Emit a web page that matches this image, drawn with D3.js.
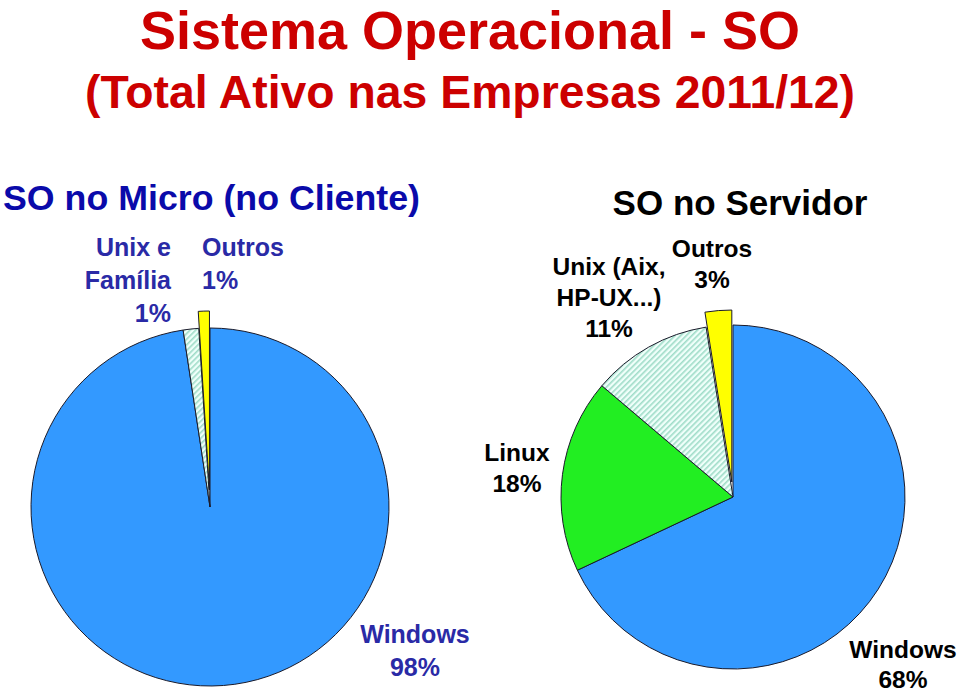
<!DOCTYPE html>
<html>
<head>
<meta charset="utf-8">
<script src="https://cdn.jsdelivr.net/npm/d3@7"></script>
<style>
  html, body { margin: 0; padding: 0; background: #fff; }
  svg { display: block; }
  text { font-family: "Liberation Sans", Arial, Helvetica, sans-serif; font-weight: bold; }
</style>
</head>
<body>
<svg id="chart" width="959" height="694"></svg>
<script>
// ---- data ----
const titleLines = ["Sistema Operacional - SO", "(Total Ativo nas Empresas 2011/12)"];
const microTitle = "SO no Micro (no Cliente)";
const servTitle = "SO no Servidor";

const microCats = ["Windows", "Unix e Família", "Outros"];
const microVals = [97.6, 1.4, 1.0];
const microLabelLines = [["Windows"], ["Unix e", "Família"], ["Outros"]];

const servCats = ["Windows", "Linux", "Unix (Aix, HP-UX...)", "Outros"];
const servVals = [68, 18.2, 11.3, 2.5];
const servLabelLines = [["Windows"], ["Linux"], ["Unix (Aix,", "HP-UX...)"], ["Outros"]];

// ---- styling / layout ----
const svg = d3.select("#chart");
const defs = svg.append("defs");
const pat = defs.append("pattern")
  .attr("id", "hatch").attr("patternUnits", "userSpaceOnUse")
  .attr("width", 4).attr("height", 4)
  .attr("patternTransform", "rotate(45)");
pat.append("rect").attr("width", 4).attr("height", 4).attr("fill", "#effffa");
pat.append("rect").attr("width", 1.6).attr("height", 4).attr("fill", "#9fdcc8");

const colorMap = {
  "Windows": "#3399ff",
  "Linux": "#22ee22",
  "Unix e Família": "url(#hatch)",
  "Unix (Aix, HP-UX...)": "url(#hatch)",
  "Outros": "#ffff00"
};

// Titles
svg.append("text").attr("x", 470).attr("y", 49).attr("text-anchor", "middle")
  .attr("font-size", 53).attr("fill", "#cc0000")
  .attr("textLength", 660).attr("lengthAdjust", "spacingAndGlyphs")
  .text(titleLines[0]);
svg.append("text").attr("x", 470).attr("y", 108).attr("text-anchor", "middle")
  .attr("font-size", 46).attr("fill", "#cc0000")
  .attr("textLength", 770).attr("lengthAdjust", "spacingAndGlyphs")
  .text(titleLines[1]);

svg.append("text").attr("x", 3).attr("y", 210)
  .attr("font-size", 35).attr("fill", "#0a0aaa")
  .attr("textLength", 417).attr("lengthAdjust", "spacingAndGlyphs")
  .text(microTitle);
svg.append("text").attr("x", 740).attr("y", 215).attr("text-anchor", "middle")
  .attr("font-size", 35).attr("fill", "#000")
  .text(servTitle);

function drawPie(cats, vals, cx, cy, r, explodeIdx, explodeDist) {
  const data = cats.map((c, i) => ({ cat: c, val: vals[i] }));
  const pie = d3.pie().sort(null).value(d => d.val).startAngle(0).endAngle(2 * Math.PI);
  const arc = d3.arc().innerRadius(0).outerRadius(r);
  const arcs = pie(data);
  const g = svg.append("g").attr("transform", `translate(${cx},${cy})`);
  g.selectAll("path").data(arcs).join("path")
    .attr("d", arc)
    .attr("fill", d => colorMap[d.data.cat])
    .attr("stroke", "#1a1a2a")
    .attr("stroke-width", 1)
    .attr("stroke-linejoin", "round")
    .attr("transform", (d, i) => {
      if (i !== explodeIdx) return null;
      const a = (d.startAngle + d.endAngle) / 2;
      return `translate(${explodeDist * Math.sin(a)},${-explodeDist * Math.cos(a)})`;
    });
  return arcs;
}

function drawLabel(lines, pct, x, y, anchor, color, size, lh) {
  const all = lines.concat([pct]);
  const t = svg.append("text").attr("text-anchor", anchor)
    .attr("font-size", size).attr("fill", color);
  all.forEach((s, i) => {
    t.append("tspan").attr("x", x).attr("y", y + i * lh).text(s);
  });
}

const pctFmt = v => Math.round(v) + "%";

// Left pie
drawPie(microCats, microVals, 210, 507, 179, 2, 17);
const microLabelPos = [
  { x: 415, y: 643, anchor: "middle" },
  { x: 171, y: 256, anchor: "end" },
  { x: 202, y: 256, anchor: "start" }
];
microCats.forEach((c, i) => {
  const p = microLabelPos[i];
  drawLabel(microLabelLines[i], pctFmt(microVals[i]), p.x, p.y, p.anchor, "#2a2aa6", 25, 33);
});

// Right pie
drawPie(servCats, servVals, 733, 497, 172, 3, 15);
const servLabelPos = [
  { x: 903, y: 658, anchor: "middle" },
  { x: 517, y: 461, anchor: "middle" },
  { x: 609, y: 275, anchor: "middle" },
  { x: 712, y: 257, anchor: "middle" }
];
servCats.forEach((c, i) => {
  const p = servLabelPos[i];
  drawLabel(servLabelLines[i], pctFmt(servVals[i]), p.x, p.y, p.anchor, "#000", 24.5, i === 0 ? 30 : 31);
});
</script>
</body>
</html>
